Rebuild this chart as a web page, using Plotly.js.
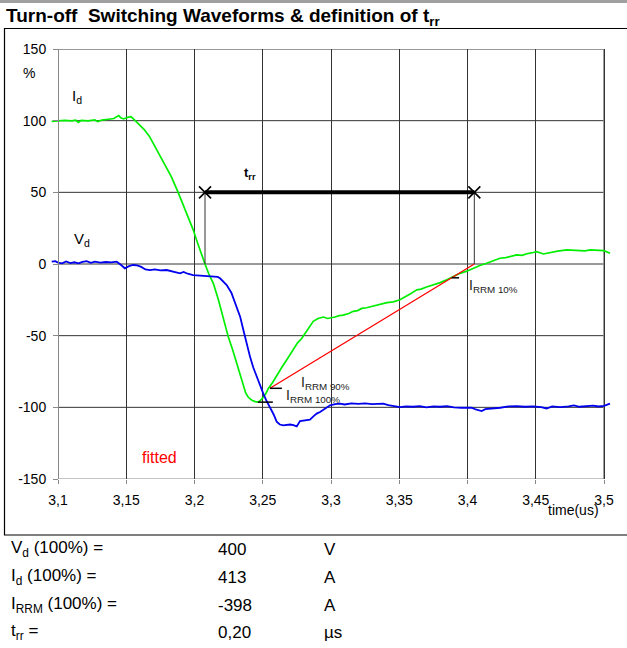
<!DOCTYPE html>
<html>
<head>
<meta charset="utf-8">
<script src="https://cdn.plot.ly/plotly-3.0.1.min.js"></script>
<style>
  html, body { margin: 0; padding: 0; background: #fff; }
  #chart { width: 627px; height: 648px; }
</style>
</head>
<body>
<div id="chart"></div>
<script>
// Diode current I_d in % of nominal, versus time in microseconds
const idTime = [3.0954, 3.100, 3.105, 3.110, 3.113, 3.115, 3.117, 3.122, 3.127, 3.129, 3.132, 3.137, 3.141, 3.143, 3.1445, 3.146, 3.148, 3.151, 3.1535, 3.156, 3.159, 3.163, 3.167, 3.171, 3.1747, 3.179, 3.183, 3.188, 3.192, 3.196, 3.199, 3.2025, 3.2055, 3.2077, 3.2105, 3.2138, 3.2175, 3.221, 3.2248, 3.228, 3.231, 3.2335, 3.2358, 3.2375, 3.2394, 3.242, 3.2445, 3.2467, 3.2485, 3.2504, 3.2525, 3.254, 3.257, 3.2602, 3.264, 3.2675, 3.2724, 3.2755, 3.2785, 3.2815, 3.2846, 3.287, 3.2905, 3.2944, 3.2975, 3.2993, 3.303, 3.306, 3.309, 3.313, 3.3163, 3.3195, 3.3225, 3.326, 3.33, 3.3335, 3.337, 3.341, 3.3456, 3.348, 3.3505, 3.354, 3.358, 3.3628, 3.366, 3.37, 3.375, 3.38, 3.3848, 3.39, 3.3945, 3.3995, 3.4043, 3.409, 3.414, 3.418, 3.4238, 3.428, 3.432, 3.436, 3.44, 3.444, 3.4482, 3.4507, 3.4556, 3.46, 3.466, 3.4727, 3.48, 3.486, 3.49, 3.4922, 3.496, 3.5, 3.5044];
const idValue = [99.5, 99.8, 100.2, 99.8, 100.3, 98.8, 100.2, 99.9, 100.5, 99.3, 100.4, 101, 101.5, 102.8, 103.5, 102, 101.2, 102.3, 102.8, 100.5, 97.5, 94, 89, 82, 76, 68, 61, 50, 41, 31, 24, 14, 5, 0, -7, -13.5, -25, -37, -51, -60, -69.5, -77, -86, -90, -93, -95, -96, -96.4, -95, -93, -90, -87, -83, -77.6, -72, -67, -60, -55, -52, -48, -44, -40, -38, -37, -38, -37.8, -37, -36, -35.7, -34.5, -33, -32.5, -31, -30.5, -29.5, -28.7, -28, -27, -26.4, -25.5, -25, -23, -21, -18, -17.5, -16, -14.7, -13, -11, -8.5, -6.5, -5, -3, -1, 0.5, 1.8, 4, 4.5, 5.5, 6.3, 6, 7.3, 8, 8.6, 7, 8, 9, 9.8, 9.5, 9.2, 9.9, 9.8, 9.3, 9.3, 7.5];

// Diode voltage V_d in % of nominal
const vdTime = [3.0954, 3.098, 3.1, 3.103, 3.106, 3.109, 3.112, 3.115, 3.118, 3.121, 3.124, 3.127, 3.131, 3.135, 3.139, 3.143, 3.146, 3.149, 3.152, 3.155, 3.158, 3.161, 3.164, 3.1674, 3.171, 3.175, 3.1796, 3.183, 3.186, 3.1894, 3.192, 3.195, 3.199, 3.203, 3.207, 3.21, 3.2138, 3.217, 3.2187, 3.221, 3.2236, 3.227, 3.231, 3.2335, 3.2358, 3.238, 3.2407, 3.243, 3.2456, 3.248, 3.2504, 3.2525, 3.2553, 3.258, 3.2602, 3.2625, 3.265, 3.268, 3.27, 3.2725, 3.2749, 3.2773, 3.281, 3.2846, 3.2875, 3.2895, 3.292, 3.2944, 3.2993, 3.303, 3.3066, 3.31, 3.315, 3.32, 3.325, 3.33, 3.335, 3.3383, 3.342, 3.346, 3.3505, 3.355, 3.36, 3.365, 3.37, 3.375, 3.38, 3.385, 3.39, 3.3955, 3.3993, 3.403, 3.406, 3.4104, 3.413, 3.418, 3.424, 3.43, 3.436, 3.442, 3.448, 3.454, 3.458, 3.462, 3.468, 3.474, 3.478, 3.482, 3.488, 3.492, 3.496, 3.5, 3.5044];
const vdValue = [1.6, 2, 1, 0.5, 1.8, 0.6, 1.2, 0.4, 1.4, 2, 0.8, 1.6, 1.0, 1.4, 1.2, 1.6, -0.5, -3, -1.5, -0.7, -1.0, -2, -3.8, -4.2, -3.8, -4.5, -4.2, -5, -5.8, -6.5, -5.5, -6.8, -7.7, -8, -8.4, -8.2, -8.4, -9, -10, -12, -14.7, -20, -29.9, -37, -46, -55, -64.8, -72, -78.8, -85, -90.4, -95, -99.8, -105, -110, -112, -112.6, -112.2, -112, -112.4, -113.3, -109.6, -109, -108.6, -106, -104.4, -103.3, -101.6, -98.6, -97.8, -97.4, -98, -97.2, -97.6, -97.2, -97.8, -97.3, -97.4, -98.5, -99.2, -99.8, -99.4, -99.6, -99.2, -100, -99.4, -99.6, -99.2, -100, -100.3, -100.5, -100.2, -101.5, -102.6, -101.3, -101, -100.3, -99.4, -99.2, -99.6, -99.4, -99.8, -100.8, -99.4, -99.8, -99.4, -98.6, -99.6, -99.2, -98.8, -99.4, -99, -97.4];

// Axis ticks
const xTickVals = [3.1, 3.15, 3.2, 3.25, 3.3, 3.35, 3.4, 3.45, 3.5];
const xTickText = ['3,1', '3,15', '3,2', '3,25', '3,3', '3,35', '3,4', '3,45', '3,5'];
const yTickVals = [-150, -100, -50, 0, 50, 100, 150];
const yTickText = ['-150', '-100', '-50', '0', '50', '100', '150'];

// Nominal values
const vdNominal = 400;   // V
const idNominal = 413;   // A
const irrmAmps = -398;   // A

// Reverse recovery construction
const trrLevel = 50;          // height of the t_rr bar, %
const trrStart = 3.2077;      // I_d zero crossing, us
const trrEnd = 3.405;         // zero crossing of the fitted line, us
const fit90Time = 3.2553;     // point where the recovery current is at 90 % of I_RRM
const irrm100 = irrmAmps / idNominal * 100;
const irrm90 = 0.9 * irrm100;
const irrm10 = 0.1 * irrm100;
const mark100Time = [3.2464, 3.2574];
const mark90Time = [3.2553, 3.264];
const mark10Time = [3.3884, 3.3938];
const trrUs = trrEnd - trrStart;

// Plot area geometry (pixels)
const W = 627, H = 648;
const mL = 50, mR = 15, mT = 49, mB = 169;
const pw = W - mL - mR, ph = H - mT - mB;
const pxPerUs = 546 / 0.4;
const xRange = [3.1 - 8 / pxPerUs, 3.5 + 8 / pxPerUs];
const px = X => (X - mL) / pw;
const py = Y => (H - mB - Y) / ph;

const FONT = 'Liberation Sans, Arial, Helvetica, sans-serif';
const GRID = '#333333';
const FRAME = '#888888';

const traces = [
  { x: idTime, y: idValue, mode: 'lines', line: { color: '#00ee00', width: 1.7 }, hoverinfo: 'skip' },
  { x: vdTime, y: vdValue, mode: 'lines', line: { color: '#0000ee', width: 1.8 }, hoverinfo: 'skip' },
  { x: [fit90Time, trrEnd], y: [irrm90, 0], mode: 'lines', line: { color: '#ff0000', width: 1.3 }, hoverinfo: 'skip' },
  { x: [trrStart, trrStart], y: [trrLevel, 0], mode: 'lines', line: { color: '#333', width: 1 }, hoverinfo: 'skip' },
  { x: [trrEnd, trrEnd], y: [trrLevel, 0], mode: 'lines', line: { color: '#333', width: 1 }, hoverinfo: 'skip' },
  { x: [trrStart, trrEnd], y: [trrLevel, trrLevel], mode: 'lines+markers',
    line: { color: '#000', width: 4 },
    marker: { symbol: 'x-thin-open', size: 12, line: { color: '#000', width: 1.6 } }, hoverinfo: 'skip' },
  { x: mark100Time, y: [irrm100, irrm100], mode: 'lines', line: { color: '#000', width: 1.5 }, hoverinfo: 'skip' },
  { x: mark90Time, y: [irrm90, irrm90], mode: 'lines', line: { color: '#000', width: 1.5 }, hoverinfo: 'skip' },
  { x: mark10Time, y: [irrm10, irrm10], mode: 'lines', line: { color: '#000', width: 1.5 }, hoverinfo: 'skip' }
];

const hLine = (y, color) => ({ type: 'line', xref: 'x', yref: 'y', x0: 3.1, x1: 3.5, y0: y, y1: y,
  line: { color: color, width: 1 }, layer: 'below' });

const shapes = [
  // top strip
  { type: 'rect', xref: 'paper', yref: 'paper', x0: px(-20), x1: px(W + 20), y0: py(3), y1: py(-2),
    fillcolor: '#a0a0a0', line: { width: 0 } },
  // chart frame
  { type: 'rect', xref: 'paper', yref: 'paper', x0: px(4.5), x1: px(W + 10), y0: py(535), y1: py(28.5),
    line: { color: '#000', width: 1.2 } },
  hLine(-100, GRID), hLine(-50, GRID), hLine(0, GRID), hLine(50, GRID), hLine(100, GRID), hLine(150, GRID),
  hLine(-150, FRAME),
  { type: 'line', xref: 'x', yref: 'y', x0: 3.5, x1: 3.5, y0: -150, y1: 150, line: { color: FRAME, width: 1.6 }, layer: 'below' }
];

const ann = (x, y, text, opts) => Object.assign({ x: x, y: y, text: text, showarrow: false,
  font: { family: FONT, size: 14, color: '#000' }, xanchor: 'center', yanchor: 'middle', borderpad: 0 }, opts || {});

const fmt = v => String(v).replace('.', ',');

const tableRows = [
  ['V<sub>d</sub> (100%) =', String(vdNominal), 'V'],
  ['I<sub>d</sub> (100%) =', String(idNominal), 'A'],
  ['I<sub>RRM</sub> (100%) =', String(irrmAmps), 'A'],
  ['t<sub>rr</sub> =', fmt(trrUs.toFixed(2)), 'µs']
];
const rowY = [549, 577, 605, 632];

const annotations = [
  ann(px(29), py(73), '%', { xref: 'paper', yref: 'paper' }),
  ann(3.1137, 117, 'I<sub>d</sub>', { xref: 'x', yref: 'y', font: { family: FONT, size: 15, color: '#000' } }),
  ann(3.1173, 17, 'V<sub>d</sub>', { xref: 'x', yref: 'y', font: { family: FONT, size: 15, color: '#000' } }),
  ann(3.2407, 63, '<b>t<sub>rr</sub></b>', { xref: 'x', yref: 'y', font: { family: FONT, size: 13, color: '#000' } }),
  ann(3.1747, -135, 'fitted', { xref: 'x', yref: 'y', font: { family: FONT, size: 16, color: '#ff0000' } }),
  ann(3.2773, -83, 'I<sub>RRM 90%</sub>', { xref: 'x', yref: 'y', xanchor: 'left', font: { family: FONT, size: 14, color: '#222' } }),
  ann(3.2665, -92, 'I<sub>RRM 100%</sub>', { xref: 'x', yref: 'y', xanchor: 'left', font: { family: FONT, size: 14, color: '#222' } }),
  ann(3.4003, -15, 'I<sub>RRM 10%</sub>', { xref: 'x', yref: 'y', xanchor: 'left', font: { family: FONT, size: 14, color: '#222' } }),
  ann(px(573), py(510), 'time(us)', { xref: 'paper', yref: 'paper', font: { family: FONT, size: 14, color: '#000' } })
];
tableRows.forEach((row, i) => {
  const o = { xref: 'paper', yref: 'paper', xanchor: 'left', font: { family: FONT, size: 17, color: '#000' } };
  annotations.push(ann(px(10), py(rowY[i]), row[0], o));
  annotations.push(ann(px(217), py(rowY[i]), row[1], o));
  annotations.push(ann(px(323), py(rowY[i]), row[2], o));
});

const layout = {
  width: W, height: H,
  margin: { l: mL, r: mR, t: mT, b: mB, pad: 0 },
  paper_bgcolor: '#fff', plot_bgcolor: '#fff',
  showlegend: false,
  font: { family: FONT, size: 14, color: '#000' },
  title: { text: '<b>Turn-off\u00a0 Switching Waveforms &amp; definition of t<sub>rr</sub></b>',
    xref: 'container', yref: 'container', x: 6 / W, xanchor: 'left', y: 1 - 15 / H, yanchor: 'middle',
    font: { family: FONT, size: 19, color: '#000' } },
  xaxis: {
    range: xRange, tickmode: 'array', tickvals: xTickVals, ticktext: xTickText,
    showgrid: true, gridcolor: GRID, gridwidth: 1, zeroline: false, showline: false,
    ticks: 'outside', ticklen: 4, tickcolor: FRAME, tickwidth: 1, ticklabelstandoff: 4,
    tickfont: { family: FONT, size: 14, color: '#000' }, fixedrange: true
  },
  yaxis: {
    range: [-150, 150], tickmode: 'array', tickvals: yTickVals, ticktext: yTickText,
    anchor: 'free', position: 8 / pw,
    showgrid: false, zeroline: false, showline: true, linecolor: FRAME, linewidth: 1,
    ticks: 'outside', ticklen: 5, tickcolor: FRAME, tickwidth: 1, ticklabelstandoff: 4,
    tickfont: { family: FONT, size: 14, color: '#000' }, fixedrange: true
  },
  shapes: shapes,
  annotations: annotations
};

Plotly.newPlot('chart', traces, layout, { displayModeBar: false, staticPlot: true });
</script>
</body>
</html>
